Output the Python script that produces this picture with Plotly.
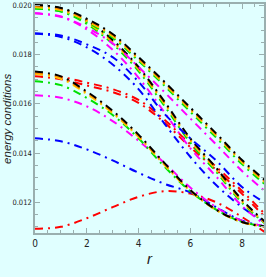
import plotly.graph_objects as go

r = [0, 1, 2, 3, 4, 5, 6, 7, 8, 9]

# group A1 (top, slow decline)
a1_black  = [0.02002, 0.01990, 0.01946, 0.01884, 0.01790, 0.01690, 0.01585, 0.01480, 0.01372, 0.01280]
a1_orange = [0.01997, 0.01985, 0.01941, 0.01879, 0.01785, 0.01685, 0.01580, 0.01475, 0.01367, 0.01275]
a1_yellow = [0.01993, 0.01981, 0.01937, 0.01875, 0.01781, 0.01681, 0.01576, 0.01471, 0.01363, 0.01271]
a1_green  = [0.01988, 0.01976, 0.01932, 0.01869, 0.01775, 0.01674, 0.01568, 0.01463, 0.01355, 0.01263]
a1_magenta= [0.01968, 0.01955, 0.01910, 0.01846, 0.01750, 0.01648, 0.01541, 0.01435, 0.01327, 0.01235]
a1_blue   = [0.01886, 0.01878, 0.01842, 0.01790, 0.01690, 0.01560, 0.01460, 0.01370, 0.01262, 0.01190]

# group A2 (top, fast decline)
a2_black  = [0.02002, 0.01989, 0.01940, 0.01860, 0.01750, 0.01610, 0.01460, 0.01340, 0.01210, 0.01110]
a2_orange = [0.01997, 0.01984, 0.01935, 0.01855, 0.01745, 0.01605, 0.01455, 0.01335, 0.01206, 0.01108]
a2_yellow = [0.01993, 0.01980, 0.01931, 0.01851, 0.01741, 0.01601, 0.01451, 0.01331, 0.01203, 0.01106]
a2_green  = [0.01988, 0.01975, 0.01925, 0.01844, 0.01733, 0.01592, 0.01443, 0.01324, 0.01198, 0.01104]
a2_magenta= [0.01968, 0.01954, 0.01903, 0.01820, 0.01707, 0.01566, 0.01420, 0.01305, 0.01185, 0.01100]
a2_blue   = [0.01886, 0.01872, 0.01830, 0.01760, 0.01660, 0.01520, 0.01385, 0.01270, 0.01180, 0.01110]

# group B (middle)
b_black   = [0.01732, 0.01712, 0.01650, 0.01572, 0.01475, 0.01360, 0.01250, 0.01170, 0.01120, 0.01100]
b_orange  = [0.01727, 0.01707, 0.01645, 0.01567, 0.01470, 0.01356, 0.01248, 0.01169, 0.01119, 0.01100]
b_yellow  = [0.01722, 0.01702, 0.01640, 0.01562, 0.01466, 0.01352, 0.01246, 0.01168, 0.01119, 0.01100]
b_green   = [0.01692, 0.01676, 0.01624, 0.01555, 0.01460, 0.01345, 0.01245, 0.01170, 0.01120, 0.01100]
b_magenta = [0.01635, 0.01625, 0.01590, 0.01530, 0.01450, 0.01360, 0.01260, 0.01180, 0.01125, 0.01100]
b_blue    = [0.01460, 0.01448, 0.01415, 0.01370, 0.01320, 0.01275, 0.01240, 0.01180, 0.01125, 0.01100]
b_red1    = [0.01722, 0.01710, 0.01686, 0.01660, 0.01616, 0.01536, 0.01436, 0.01344, 0.01246, 0.01140]
b_red2    = [0.01712, 0.01700, 0.01675, 0.01648, 0.01604, 0.01524, 0.01424, 0.01332, 0.01234, 0.01128]

# group C (bottom red)
c_red     = [0.01092, 0.01100, 0.01135, 0.01180, 0.01222, 0.01245, 0.01235, 0.01200, 0.01140, 0.01070]

x_ticks = [0, 2, 4, 6, 8]
y_ticks = [0.012, 0.014, 0.016, 0.018, 0.020]

BLACK, ORANGE, YELLOW, GREEN, MAGENTA, BLUE, RED = (
    "#000000", "#FF8C00", "#FFD500", "#00E000", "#FF00FF", "#0000FF", "#FF0000")

series = [
    (c_red, RED),
    (b_blue, BLUE), (b_magenta, MAGENTA), (b_green, GREEN),
    (b_red2, RED), (b_red1, RED),
    (b_yellow, YELLOW), (b_orange, ORANGE), (b_black, BLACK),
    (a2_blue, BLUE), (a2_magenta, MAGENTA), (a2_green, GREEN),
    (a2_yellow, YELLOW), (a2_orange, ORANGE), (a2_black, BLACK),
    (a1_blue, BLUE), (a1_magenta, MAGENTA), (a1_green, GREEN),
    (a1_yellow, YELLOW), (a1_orange, ORANGE), (a1_black, BLACK),
]

fig = go.Figure()
for vals, col in series:
    fig.add_trace(go.Scatter(
        x=r, y=vals, mode="lines",
        line=dict(color=col, width=2, dash="8px,5px,2px,5px", shape="spline", smoothing=1.0),
        showlegend=False, hoverinfo="skip"))

BG = "#E0FFFF"
AX = "#9AAFAF"
TXT = "#222222"
FONT = "Liberation Sans Narrow, DejaVu Sans Condensed, Liberation Sans, Arial, sans-serif"
fig.update_layout(
    width=266, height=277,
    margin=dict(l=35, r=2, t=4, b=44, autoexpand=False),
    paper_bgcolor=BG, plot_bgcolor=BG,
    font=dict(family=FONT, size=8, color=TXT),
    annotations=[
        dict(text="<i>energy conditions</i>", xref="paper", yref="paper",
             x=-0.125, y=0.5, xanchor="center", yanchor="middle", textangle=-90,
             showarrow=False, font=dict(family="Liberation Sans, Arial, sans-serif", size=11.5, color=TXT)),
        dict(text="<i>r</i>", xref="paper", yref="paper",
             x=0.5, y=-0.11, xanchor="center", yanchor="middle",
             showarrow=False, font=dict(family="Liberation Sans, Arial, sans-serif", size=15, color=TXT)),
    ],
)
fig.update_xaxes(
    range=[0, 8.85], tickvals=x_ticks, ticktext=[str(v) for v in x_ticks],
    automargin=False,
    showgrid=False, zeroline=False, showline=True, linecolor=AX, linewidth=1.5, mirror="ticks",
    ticks="inside", ticklen=5, tickcolor=AX, tickwidth=1,
    minor=dict(dtick=0.5, ticks="inside", ticklen=3, tickcolor=AX, showgrid=False),
    tickfont=dict(family=FONT, size=10, color=TXT),
)
fig.update_yaxes(
    range=[0.01075, 0.02006], tickvals=y_ticks, ticktext=[f"{v:.3f}" for v in y_ticks],
    automargin=False,
    showgrid=False, zeroline=False, showline=True, linecolor=AX, linewidth=1.5, mirror="ticks",
    ticks="inside", ticklen=5, tickcolor=AX, tickwidth=1,
    minor=dict(dtick=0.0005, tick0=0.010, ticks="inside", ticklen=3, tickcolor=AX, showgrid=False),
    tickfont=dict(family=FONT, size=7.5, color=TXT),
)

fig.write_html("out.html", config={"displayModeBar": False},
               post_script="document.body.style.margin='0';document.body.style.background='#E0FFFF';")
